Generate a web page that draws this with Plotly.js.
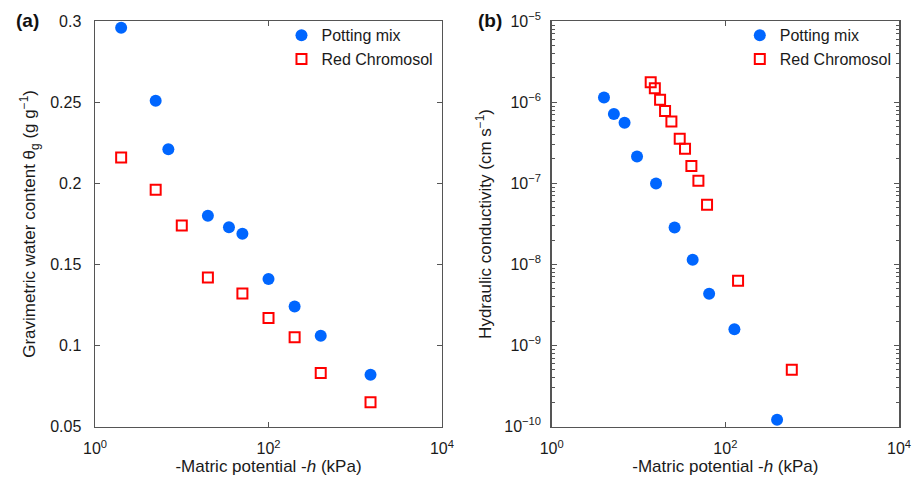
<!DOCTYPE html>
<html>
<head>
<meta charset="utf-8">
<script src="https://cdn.plot.ly/plotly-3.0.1.min.js"></script>
<style>
  html, body { margin: 0; padding: 0; background: #fff; }
  #chart { width: 913px; height: 482px; }
</style>
</head>
<body>
<div id="chart"></div>
<script>
// Panel (a): water retention, gravimetric water content vs suction
const potMixHa = [2, 5, 7, 20, 35, 50, 100, 200, 400, 1500];
const potMixTheta = [0.296, 0.251, 0.221, 0.180, 0.173, 0.169, 0.141, 0.124, 0.106, 0.082];
const chromoHa = [2, 5, 10, 20, 50, 100, 200, 400, 1500];
const chromoTheta = [0.216, 0.196, 0.174, 0.142, 0.132, 0.117, 0.105, 0.083, 0.065];

// Panel (b): unsaturated hydraulic conductivity vs suction
const potMixHb = [4, 5.2, 6.9, 9.6, 15.9, 26, 42, 65, 127, 394];
const potMixK = [1.15e-6, 7.2e-7, 5.6e-7, 2.15e-7, 1.0e-7, 2.86e-8, 1.14e-8, 4.35e-9, 1.59e-9, 1.21e-10];
const chromoHb = [13.8, 15.4, 17.7, 20.2, 23.9, 29.8, 34.3, 40.6, 48.9, 61.5, 140, 582];
const chromoK = [1.77e-6, 1.49e-6, 1.08e-6, 7.8e-7, 5.8e-7, 3.56e-7, 2.68e-7, 1.64e-7, 1.08e-7, 5.46e-8, 6.3e-9, 5.0e-10];

// Tick labels
const xTickVals = [1, 100, 10000];
const xTickText = ['10<sup>0</sup>', '10<sup>2</sup>', '10<sup>4</sup>'];
const thetaTickVals = [0.05, 0.1, 0.15, 0.2, 0.25, 0.3];
const thetaTickText = ['0.05', '0.1', '0.15', '0.2', '0.25', '0.3'];
const kTickVals = [1e-10, 1e-9, 1e-8, 1e-7, 1e-6, 1e-5];
const kTickText = ['10<sup>−10</sup>', '10<sup>−9</sup>', '10<sup>−8</sup>', '10<sup>−7</sup>', '10<sup>−6</sup>', '10<sup>−5</sup>'];

const names = ['Potting mix', 'Red Chromosol'];
const blue = 'rgb(0,102,255)';
const red = 'rgb(255,0,0)';
const FONT = 'Liberation Sans, Arial, Helvetica, sans-serif';
const frame = '#555';
const ink = '#1a1a1a';

const circle = { symbol: 'circle', size: 12, color: blue };
const square = { symbol: 'square-open', size: 10, color: red, line: { width: 2, color: red } };

const traces = [
  { x: potMixHa, y: potMixTheta, name: names[0], mode: 'markers', marker: circle,
    xaxis: 'x', yaxis: 'y', legend: 'legend', cliponaxis: false },
  { x: chromoHa, y: chromoTheta, name: names[1], mode: 'markers', marker: square,
    xaxis: 'x', yaxis: 'y', legend: 'legend', cliponaxis: false },
  { x: potMixHb, y: potMixK, name: names[0], mode: 'markers', marker: circle,
    xaxis: 'x2', yaxis: 'y2', legend: 'legend2', cliponaxis: false },
  { x: chromoHb, y: chromoK, name: names[1], mode: 'markers', marker: square,
    xaxis: 'x2', yaxis: 'y2', legend: 'legend2', cliponaxis: false }
];

function baseAxis(extra) {
  return Object.assign({
    showline: true, linecolor: frame, linewidth: 1.5, mirror: 'ticks',
    ticks: 'inside', ticklen: 5, tickwidth: 1, tickcolor: frame,
    showgrid: false, zeroline: false, fixedrange: true,
    tickfont: { family: FONT, size: 16, color: ink }
  }, extra);
}

const titleFont = { family: FONT, size: 17, color: ink };
const xTitle = { text: '-Matric potential -<i>h</i> (kPa)', font: titleFont, standoff: 4 };

const layout = {
  width: 913, height: 482,
  margin: { l: 0, r: 0, t: 0, b: 0 },
  paper_bgcolor: '#fff', plot_bgcolor: '#fff',
  font: { family: FONT, color: ink },
  xaxis: baseAxis({
    type: 'log', range: [0, 4], domain: [0.1041, 0.4841], anchor: 'y',
    tickmode: 'array', tickvals: xTickVals, ticktext: xTickText,
    ticklabelstandoff: 7, title: xTitle
  }),
  yaxis: baseAxis({
    range: [0.05, 0.3], domain: [0.1151, 0.9558], anchor: 'x',
    tickmode: 'array', tickvals: thetaTickVals, ticktext: thetaTickText,
    ticklabelstandoff: 9,
    title: { text: 'Gravimetric water content θ<sub>g</sub> (g g<sup>−1</sup>)', font: titleFont, standoff: 10 }
  }),
  xaxis2: baseAxis({
    type: 'log', range: [0, 4], domain: [0.6043, 0.9847], anchor: 'y2',
    tickmode: 'array', tickvals: xTickVals, ticktext: xTickText,
    ticklabelstandoff: 7, title: xTitle
  }),
  yaxis2: baseAxis({
    type: 'log', range: [-10, -5], domain: [0.1151, 0.9558], anchor: 'x2',
    tickmode: 'array', tickvals: kTickVals, ticktext: kTickText,
    ticklabelstandoff: 6,
    minor: { ticks: 'inside', ticklen: 3, tickcolor: frame, dtick: 'D1', showgrid: false },
    title: { text: 'Hydraulic conductivity (cm s<sup>−1</sup>)', font: titleFont, standoff: 8 }
  }),
  legend: {
    x: 0.3083, y: 0.962, xanchor: 'left', yanchor: 'top',
    bgcolor: 'rgba(0,0,0,0)', font: { family: FONT, size: 16, color: ink },
    tracegroupgap: 0
  },
  legend2: {
    x: 0.8103, y: 0.962, xanchor: 'left', yanchor: 'top',
    bgcolor: 'rgba(0,0,0,0)', font: { family: FONT, size: 16, color: ink },
    tracegroupgap: 0
  },
  showlegend: true,
  annotations: [
    { text: '<b>(a)</b>', x: 0.015, y: 0.957, xref: 'paper', yref: 'paper', xanchor: 'left', yanchor: 'middle',
      showarrow: false, font: { family: FONT, size: 19, color: '#111' } },
    { text: '<b>(b)</b>', x: 0.521, y: 0.957, xref: 'paper', yref: 'paper', xanchor: 'left', yanchor: 'middle',
      showarrow: false, font: { family: FONT, size: 19, color: '#111' } }
  ]
};

Plotly.newPlot('chart', traces, layout, { staticPlot: true, displayModeBar: false });
</script>
</body>
</html>
